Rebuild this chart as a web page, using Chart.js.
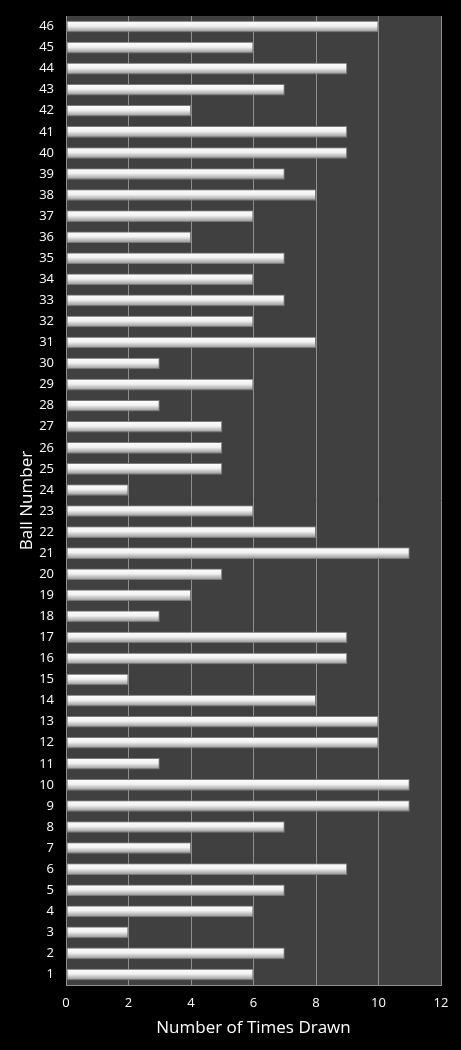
<!DOCTYPE html>
<html>
<head>
<meta charset="utf-8">
<script src="https://cdn.jsdelivr.net/npm/chart.js@4"></script>
<style>
  html, body { margin: 0; padding: 0; background: #000; }
  #wrap { width: 461px; height: 1050px; position: relative; }
</style>
</head>
<body>
<div id="wrap"><canvas id="ballChart"></canvas></div>
<script>
// ball numbers, bottom to top
const BALLS = Array.from({ length: 46 }, (_, i) => String(i + 1));
// times drawn for balls 1..46
const TIMES_DRAWN = [
  6, 7, 2, 6, 7, 9, 4, 7, 11, 11,
  3, 10, 10, 8, 2, 9, 9, 3, 4, 5,
  11, 8, 6, 2, 5, 5, 5, 3, 6, 3,
  8, 6, 7, 6, 7, 4, 6, 8, 7, 9,
  9, 4, 7, 9, 6, 10,
];
const X_TICKS = [0, 2, 4, 6, 8, 10, 12];

const FONT = "'Open Sans', 'Noto Sans', sans-serif";
const GRID = '#8f8f8f';

const plotBg = {
  id: 'plotBg',
  beforeDraw(chart) {
    const { ctx, chartArea: a } = chart;
    ctx.save();
    ctx.fillStyle = '#404040';
    ctx.fillRect(a.left, a.top, a.right - a.left, a.bottom - a.top);
    ctx.restore();
  },
};

function barFill(c) {
  const chart = c.chart;
  if (!chart.chartArea) return '#dddddd';
  const y = chart.scales.y.getPixelForValue(c.dataIndex);
  const g = chart.ctx.createLinearGradient(0, y - 6, 0, y + 6);
  g.addColorStop(0, '#ffffff');
  g.addColorStop(0.45, '#f2f2f2');
  g.addColorStop(1, '#8c8c8c');
  return g;
}

new Chart(document.getElementById('ballChart'), {
  type: 'bar',
  data: {
    labels: BALLS,
    datasets: [{
      data: TIMES_DRAWN,
      backgroundColor: barFill,
      borderColor: '#7a7a7a',
      borderWidth: 1,
      borderSkipped: false,
      categoryPercentage: 1,
      barPercentage: 0.55,
    }],
  },
  plugins: [plotBg],
  options: {
    indexAxis: 'y',
    responsive: true,
    maintainAspectRatio: false,
    animation: false,
    layout: { padding: { top: 16, right: 20, left: 17, bottom: 12 } },
    plugins: { legend: { display: false }, tooltip: { enabled: false } },
    scales: {
      x: {
        min: 0,
        max: 12,
        afterBuildTicks: (s) => { s.ticks = X_TICKS.map((v) => ({ value: v })); },
        afterFit: (s) => { s.height = 53; },
        grid: { color: GRID, drawTicks: false },
        border: { color: GRID },
        ticks: { color: '#ffffff', padding: 10, font: { family: FONT, size: 13 } },
        title: {
          display: true,
          text: 'Number of Times Drawn',
          color: '#ffffff',
          padding: { top: 4, bottom: 0 },
          font: { family: FONT, size: 17 },
        },
      },
      y: {
        reverse: true,
        afterFit: (s) => { s.width = 49; s.paddingTop = 0; s.paddingBottom = 0; },
        grid: { display: false, drawTicks: false },
        border: { color: GRID },
        ticks: { color: '#ffffff', padding: 12, autoSkip: false, font: { family: FONT, size: 13 } },
        title: {
          display: true,
          text: 'Ball Number',
          color: '#ffffff',
          padding: { top: 0, bottom: 4 },
          font: { family: FONT, size: 17 },
        },
      },
    },
  },
});
</script>
</body>
</html>
